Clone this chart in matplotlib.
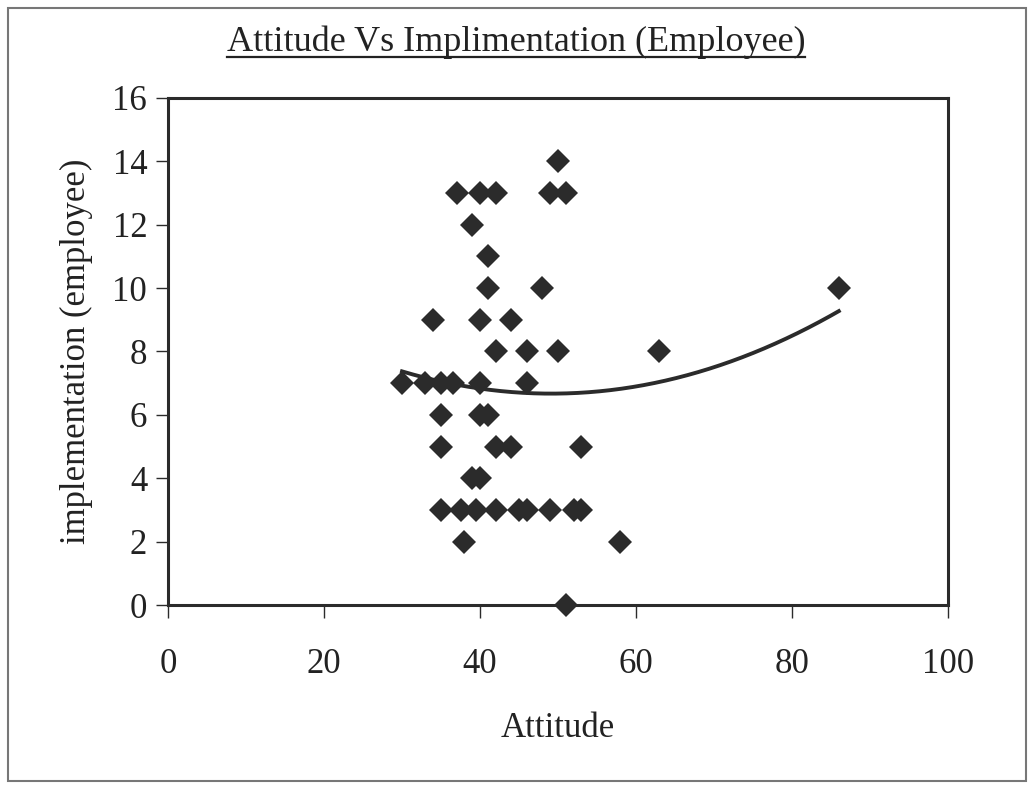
import matplotlib.pyplot as plt
import numpy as np
from matplotlib.patches import Rectangle
from matplotlib.lines import Line2D

# Attitude scores and implementation scores
attitude = [
    50,
    37, 40, 42, 49, 51,
    39,
    41,
    41, 48, 86,
    34, 40, 44,
    42, 46, 50, 63,
    30, 33, 35, 36.5, 40, 46,
    35, 40, 41,
    35, 42, 44, 53,
    39, 40,
    35, 37.5, 39.5, 42, 45, 46, 49, 52, 53,
    38, 58,
    51,
]
implementation = [
    14,
    13, 13, 13, 13, 13,
    12,
    11,
    10, 10, 10,
    9, 9, 9,
    8, 8, 8, 8,
    7, 7, 7, 7, 7, 7,
    6, 6, 6,
    5, 5, 5, 5,
    4, 4,
    3, 3, 3, 3, 3, 3, 3, 3, 3,
    2, 2,
    0,
]

x_ticks = [0, 20, 40, 60, 80, 100]
y_ticks = [0, 2, 4, 6, 8, 10, 12, 14, 16]

plt.rcParams["font.family"] = ["Liberation Serif", "DejaVu Serif"]
ink = "#2b2b2b"
txt = "#222222"

fig = plt.figure(figsize=(10.32, 7.89), dpi=100)
ax = fig.add_axes([168 / 1032, 1 - 605 / 789, 780 / 1032, 507 / 789])

ax.plot(attitude, implementation, "D", color=ink, markersize=12,
        markeredgewidth=0, zorder=3, clip_on=False)

# 2nd order polynomial trendline, as Excel draws it
coef = np.polyfit(attitude, implementation, 2)
xs = np.linspace(min(attitude), max(attitude), 200)
ax.plot(xs, np.polyval(coef, xs), color=ink, linewidth=2.8, zorder=2)

ax.set_xlim(0, 100)
ax.set_ylim(0, 16)
ax.set_xticks(x_ticks)
ax.set_yticks(y_ticks)
ax.tick_params(direction="out", length=9, width=1, color=ink,
               labelsize=25, labelcolor=txt)
ax.tick_params(axis="y", pad=6)
ax.tick_params(axis="x", pad=22)
for s in ax.spines.values():
    s.set_linewidth(2.2)
    s.set_color(ink)

ax.set_xlabel("Attitude", fontsize=25, labelpad=22, color=txt)
ax.set_ylabel("implementation (employee)", fontsize=25, labelpad=14,
              color=txt)

title = fig.text(0.5, 1 - 42 / 789, "Attitude Vs Implimentation (Employee)",
                 ha="center", va="center", fontsize=26, color=txt)
fig.canvas.draw()
bb = title.get_window_extent().transformed(fig.transFigure.inverted())
fig.add_artist(Line2D([bb.x0, bb.x1], [bb.y0 + 0.002, bb.y0 + 0.002],
                      transform=fig.transFigure, color=txt, linewidth=1.6))

# page frame of the pasted chart
fig.add_artist(Rectangle((8 / 1032, 8 / 789), 1018 / 1032, 773 / 789,
                         transform=fig.transFigure, fill=False,
                         edgecolor="#777777", linewidth=1.5))

fig.savefig("out.png", dpi=100)
